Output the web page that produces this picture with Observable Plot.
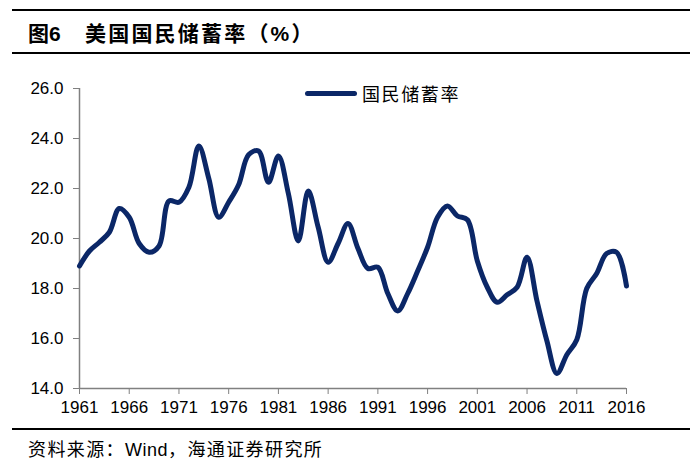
<!DOCTYPE html>
<html>
<head>
<meta charset="utf-8">
<script src="https://cdn.jsdelivr.net/npm/d3@7"></script>
<script src="https://cdn.jsdelivr.net/npm/@observablehq/plot@0.6"></script>
<style>
  html, body { margin: 0; padding: 0; background: #fff; }
  body { width: 700px; height: 466px; position: relative; overflow: hidden; font-family: "Noto Sans CJK SC", "Liberation Sans", sans-serif; }
  .rule { position: absolute; left: 12px; width: 678px; background: #000; }
  #title { position: absolute; left: 28px; top: 17px; font-size: 21px; font-weight: bold; line-height: 30px; white-space: pre; color: #000; }
  #title .num { font-family: "Liberation Sans", Arial, sans-serif; }
  #title .main { position: absolute; left: 57px; top: 0; letter-spacing: 2.2px; }
  #caption { position: absolute; left: 28px; top: 435px; font-size: 18px; letter-spacing: 1.4px; line-height: 26px; color: #000; white-space: pre; }
  #caption .lat { font-family: "Liberation Sans", Arial, sans-serif; letter-spacing: 0.5px; }
  #chart { position: absolute; left: 0; top: 60px; }
  #legend { position: absolute; left: 305px; top: 80px; height: 26px; }
  #legend .swatch { position: absolute; left: 0; top: 11px; width: 52px; height: 5px; border-radius: 2.5px; background: #0b2767; }
  #legend .lbl { position: absolute; left: 57px; top: 0; font-size: 18px; letter-spacing: 1.6px; line-height: 26px; white-space: nowrap; color: #000; }
</style>
</head>
<body>
<div class="rule" style="top:9px;height:2px"></div>
<div id="title">图<span class="num">6</span><span class="main">美国国民储蓄率（<span class="num">%</span>）</span></div>
<div class="rule" style="top:52px;height:1.5px"></div>
<div id="chart"></div>
<div id="legend"><div class="swatch"></div><div class="lbl">国民储蓄率</div></div>
<div class="rule" style="top:428px;height:1.5px"></div>
<div id="caption">资料来源：<span class="lat">Wind</span>，海通证券研究所</div>
<script>
const years = [1961,1962,1963,1964,1965,1966,1967,1968,1969,1970,
  1971,1972,1973,1974,1975,1976,1977,1978,1979,1980,
  1981,1982,1983,1984,1985,1986,1987,1988,1989,1990,
  1991,1992,1993,1994,1995,1996,1997,1998,1999,2000,
  2001,2002,2003,2004,2005,2006,2007,2008,2009,2010,
  2011,2012,2013,2014,2015,2016];
const savingRate = [18.9,19.5,19.85,20.25,21.2,20.85,19.8,19.45,19.7,21.5,
  21.45,22.05,23.7,22.4,20.85,21.45,22.15,23.35,23.5,22.25,
  23.3,21.8,19.9,21.9,20.45,19.05,19.8,20.6,19.6,18.8,
  18.85,17.8,17.1,17.8,18.7,19.65,20.85,21.3,20.9,20.75,
  19.1,18.05,17.45,17.75,18.05,19.25,17.5,15.9,14.6,15.35,
  15.95,18.0,18.6,19.4,19.45,18.1];
const xTicks = [1961,1966,1971,1976,1981,1986,1991,1996,2001,2006,2011,2016];
const yTicks = [14,16,18,20,22,24,26];
const seriesName = "国民储蓄率";

const data = years.map((year, i) => ({year, value: savingRate[i]}));

const chart = Plot.plot({
  width: 700,
  height: 370,
  marginTop: 28,
  marginBottom: 42,
  marginLeft: 79,
  marginRight: 74,
  style: {fontFamily: '"Liberation Sans", Arial, sans-serif', fontSize: "17px", color: "#000", background: "transparent"},
  x: {domain: [1961, 2016]},
  y: {domain: [14, 26]},
  marks: [
    Plot.axisY({ticks: yTicks, tickFormat: d => d.toFixed(1), tickSize: 6, tickPadding: 10, label: null, stroke: "#808080", fill: "#000", fontSize: 17}),
    Plot.axisX({ticks: xTicks, tickFormat: d => String(d), tickSize: 6, tickPadding: 6, label: null, stroke: "#808080", fill: "#000", fontSize: 17}),
    Plot.ruleX([1961], {stroke: "#808080", strokeWidth: 1.5}),
    Plot.ruleY([14], {stroke: "#808080", strokeWidth: 1.5}),
    Plot.line(data, {x: "year", y: "value", curve: "catmull-rom", stroke: "#0b2767", strokeWidth: 5, strokeLinejoin: "round", strokeLinecap: "round"})
  ]
});
document.getElementById("chart").appendChild(chart);
document.querySelector("#legend .lbl").textContent = seriesName;
</script>
</body>
</html>
